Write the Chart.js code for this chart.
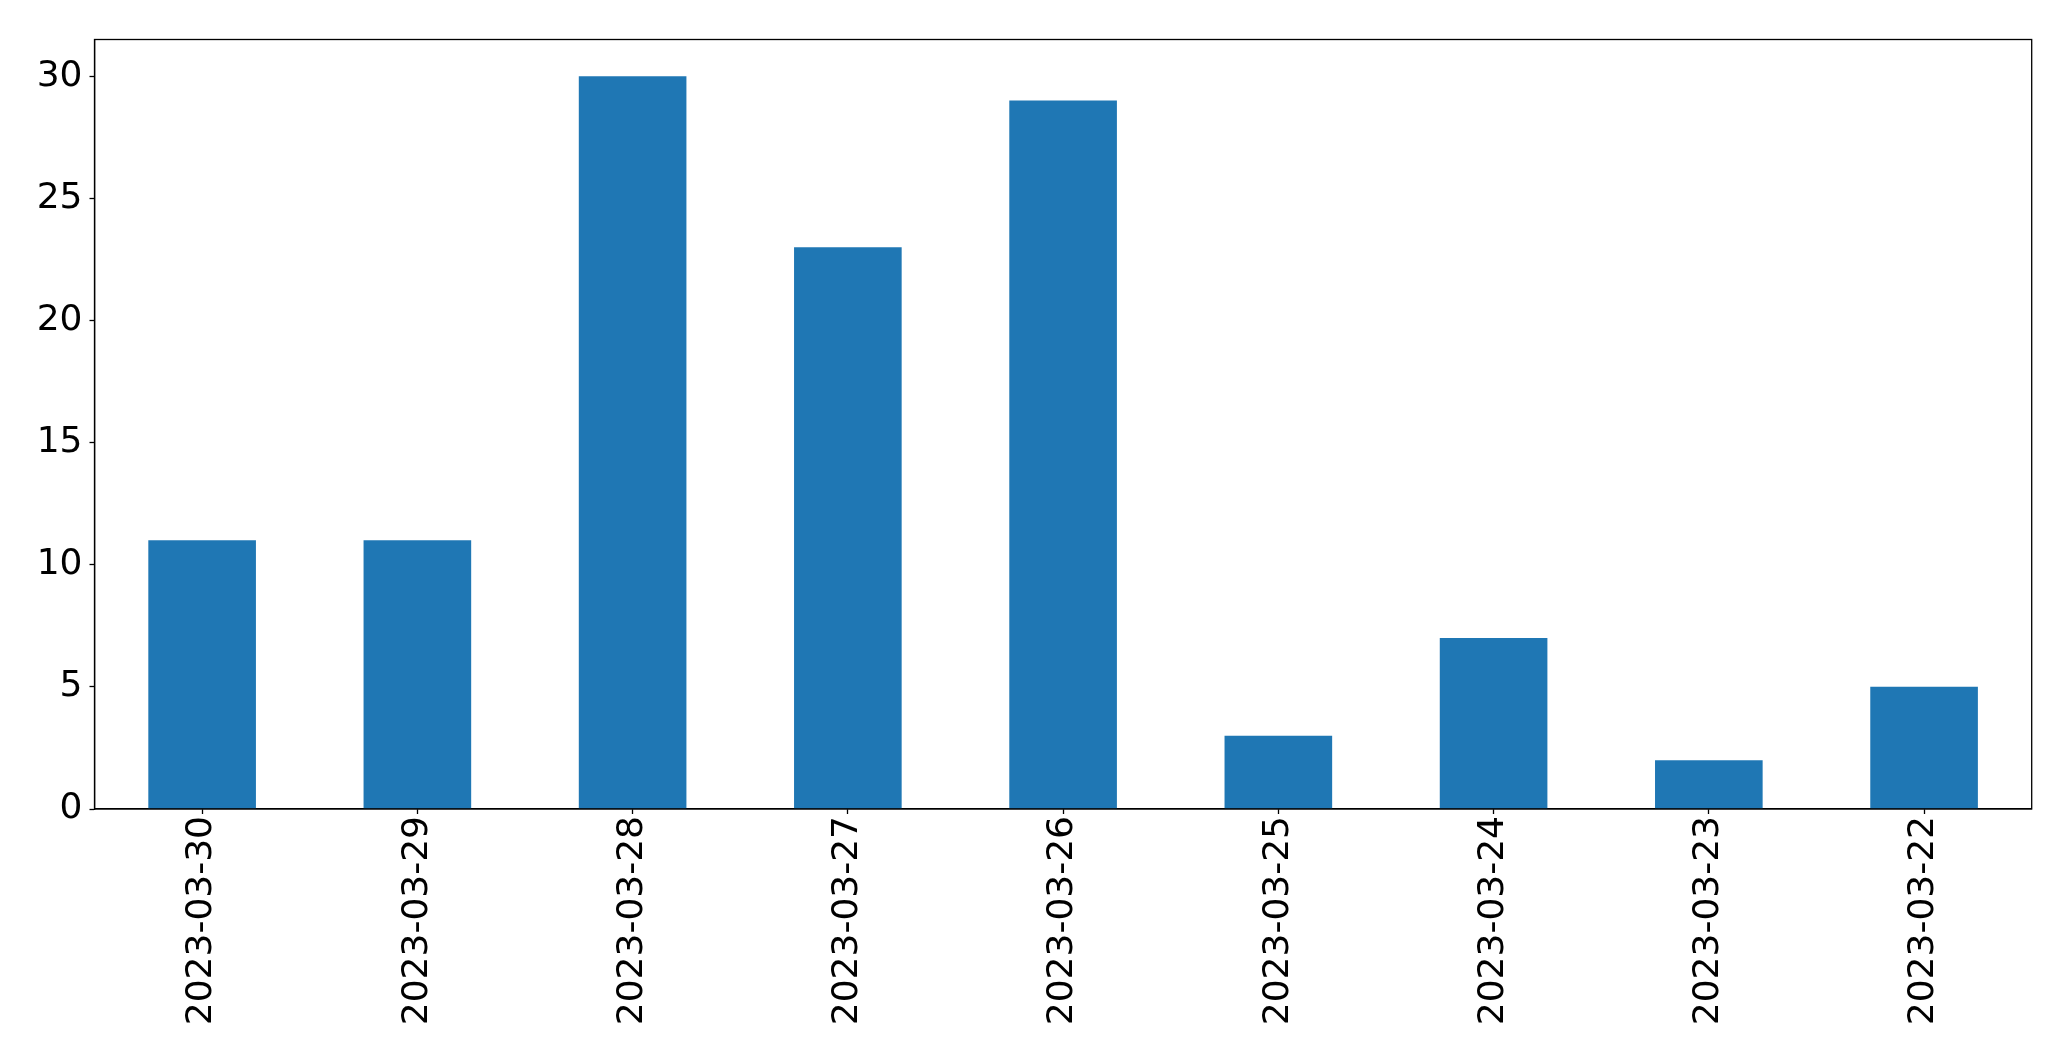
<!DOCTYPE html>
<html>
<head>
<meta charset="utf-8">
<script src="https://cdn.jsdelivr.net/npm/chart.js@4/dist/chart.umd.min.js"></script>
<style>
  html, body { margin: 0; padding: 0; background: #fff; }
  canvas { display: block; }
</style>
</head>
<body>
<canvas id="c" width="2071" height="1061"></canvas>
<script>
// data
const dates = ['2023-03-30','2023-03-29','2023-03-28','2023-03-27','2023-03-26','2023-03-25','2023-03-24','2023-03-23','2023-03-22'];
const counts = [11, 11, 30, 23, 29, 3, 7, 2, 5];
const yTicks = [0, 5, 10, 15, 20, 25, 30];

const FONT = { family: '"DejaVu Sans", sans-serif', size: 36 };

// matplotlib style box round the plot area
const frame = {
  id: 'frame',
  afterDraw(chart) {
    const a = chart.chartArea, ctx = chart.ctx;
    ctx.save();
    ctx.strokeStyle = '#000';
    ctx.lineWidth = 1.3;
    ctx.strokeRect(a.left, a.top, a.right - a.left, a.bottom - a.top);
    ctx.restore();
  }
};

new Chart(document.getElementById('c').getContext('2d'), {
  type: 'bar',
  data: {
    labels: dates,
    datasets: [{ data: counts, backgroundColor: '#1f77b4', barPercentage: 0.5, categoryPercentage: 1.0 }]
  },
  options: {
    responsive: false,
    animation: false,
    layout: { padding: { top: 39.5, right: 39.3, left: 0, bottom: 0 } },
    plugins: { legend: { display: false }, tooltip: { enabled: false } },
    scales: {
      x: {
        grid: { offset: false, drawOnChartArea: false, drawTicks: true, tickLength: 5, tickColor: '#000', tickWidth: 1.3 },
        border: { display: true, color: '#000', width: 1.3 },
        ticks: { color: '#000', font: FONT, minRotation: 90, maxRotation: 90, autoSkip: false, padding: 2 },
        afterFit: s => { s.height = 252; }
      },
      y: {
        min: 0, max: 31.5,
        grid: { drawOnChartArea: false, drawTicks: true, tickLength: 5, tickColor: '#000', tickWidth: 1.3 },
        border: { display: true, color: '#000', width: 1.3 },
        ticks: { color: '#000', font: FONT, padding: 7, includeBounds: false },
        afterBuildTicks: s => { s.ticks = yTicks.map(v => ({ value: v })); },
        afterFit: s => { s.width = 94.5; }
      }
    }
  },
  plugins: [frame]
});
</script>
</body>
</html>
